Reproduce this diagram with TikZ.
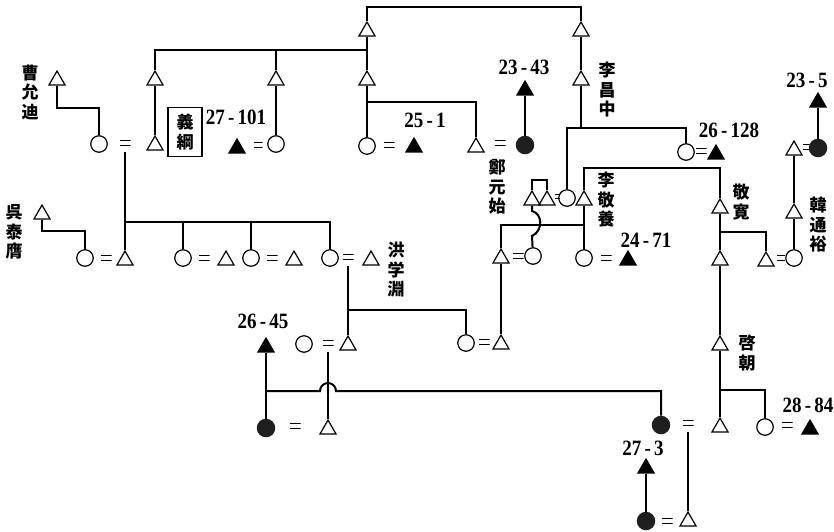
\documentclass[tikz,border=0pt]{standalone}
\usepackage{fontspec}
\newfontfamily\jp{Noto Sans CJK JP}
\newfontfamily\numfont{Liberation Serif}
\usetikzlibrary{shapes.geometric}
\begin{document}
\begin{tikzpicture}[x=1pt,y=-1pt,
 ln/.style={line width=2pt},
 tri/.style={regular polygon, regular polygon sides=3, minimum size=18.5pt, inner sep=0pt, draw, line width=1.2pt, yshift=-2.3pt},
 ftri/.style={tri, fill=black},
 circ/.style={circle, minimum size=16.5pt, inner sep=0pt, draw, line width=1.2pt},
 fcirc/.style={circle, minimum size=18.5pt, inner sep=0pt, fill=black!88},
 eqs/.style={rectangle, minimum width=11pt, minimum height=6pt, inner sep=0pt,
   path picture={\draw[line width=1pt]
     ([yshift=-0.5pt]path picture bounding box.north west) -- ([yshift=-0.5pt]path picture bounding box.north east)
     ([yshift=0.5pt]path picture bounding box.south west) -- ([yshift=0.5pt]path picture bounding box.south east);}},
 num/.style={font=\numfont\bfseries\fontsize{19}{19}\selectfont, inner sep=0pt},
 vt/.style={font=\jp\bfseries\fontsize{17}{19.5}\selectfont, align=center, inner sep=0pt},
 frombar/.style={ln, shorten <=6pt}
]
\useasboundingbox[fill=white] (0,0) rectangle (834,531);

% ---------- nodes ----------
\node[tri] (gA) at (367,29) {};
\node[tri] (gB) at (581,29) {};
\node[tri] (y1) at (57,78) {};
\node[tri] (y2) at (155,78) {};
\node[tri] (y3) at (276,78) {};
\node[tri] (y4) at (367,78) {};
\node[tri] (y5) at (581,78) {};

\node[circ] (c1) at (99,144) {};
\node[eqs] (e1) at (125,143) {};
\node[tri] (t1) at (155,143) {};
\node[draw, line width=1.8pt, minimum width=34pt, minimum height=49pt, inner sep=1pt, align=center,
      font=\jp\bfseries\fontsize{17}{20}\selectfont] (box) at (185,132) {義\\綱};
\node[ftri] (ft1) at (237,146) {};
\node[eqs, minimum width=9pt] (e2) at (258,145) {};
\node[circ] (c2) at (276,144) {};
\node[circ] (c3) at (367,146) {};
\node[eqs] (e3) at (389,145) {};
\node[ftri] (ft2) at (414,145) {};
\node[tri] (t2) at (476,145) {};
\node[eqs] (e4) at (500,143) {};
\node[fcirc] (fc1) at (525,145) {};
\node[ftri] (ft3) at (525,88) {};
\node[circ] (c4) at (686,152) {};
\node[eqs] (e5) at (701,151) {};
\node[ftri] (ft4) at (716,152) {};
\node[tri] (t3) at (794,148) {};
\node[eqs, minimum width=7pt] (e6) at (806,147) {};
\node[fcirc] (fc2) at (818,148) {};
\node[ftri] (ft5) at (818,100) {};

\node[tri] (tw1) at (532,198) {};
\node[tri] (tw2) at (547,198) {};
\node[eqs, minimum width=5pt, minimum height=5pt] (e7) at (557,196) {};
\node[circ] (c5) at (567,198) {};
\node[tri] (t4) at (584,198) {};
\node[tri] (t5) at (720,206) {};
\node[tri] (t6) at (794,211) {};

\node[tri] (y7) at (42,212) {};
\node[circ] (c6) at (85,258) {};
\node[eqs] (e8) at (106,258) {};
\node[tri] (t7) at (125,258) {};
\node[circ] (c7) at (183,258) {};
\node[eqs] (e9) at (204,258) {};
\node[tri] (t8) at (226,258) {};
\node[circ] (c8) at (251,258) {};
\node[eqs] (e10) at (272,258) {};
\node[tri] (t9) at (294,258) {};
\node[circ] (c9) at (330,258) {};
\node[eqs] (e11) at (348,257) {};
\node[tri] (t10) at (371,258) {};
\node[tri] (t11) at (501,256) {};
\node[eqs] (e12) at (518,256) {};
\node[circ] (c10) at (533,256) {};
\node[circ] (c11) at (584,258) {};
\node[eqs] (e13) at (606,258) {};
\node[ftri] (ft6) at (628,258) {};
\node[tri] (t12) at (720,258) {};
\node[tri] (t13) at (766,259) {};
\node[eqs, minimum width=8pt] (e14) at (781,258) {};
\node[circ] (c12) at (794,258) {};

\node[ftri] (ft7) at (266,345) {};
\node[circ] (c13) at (304,344) {};
\node[eqs] (e15) at (328,343) {};
\node[tri] (t14) at (348,343) {};
\node[circ] (c14) at (466,343) {};
\node[eqs] (e16) at (484,342) {};
\node[tri] (t15) at (501,342) {};
\node[tri] (t16) at (720,343) {};

\node[fcirc] (fc3) at (266,428) {};
\node[eqs] (e17) at (295,426) {};
\node[tri] (t17) at (328,427) {};
\node[fcirc] (fc4) at (661,425) {};
\node[eqs] (e18) at (688,423) {};
\node[tri] (t18) at (720,425) {};
\node[circ] (c15) at (765,427) {};
\node[eqs] (e19) at (787,425) {};
\node[ftri] (ft8) at (810,427) {};
\node[ftri] (ft9) at (646,466) {};
\node[fcirc] (fc5) at (646,521) {};
\node[eqs] (e20) at (667,521) {};
\node[tri] (t19) at (688,519) {};

% ---------- labels ----------
\node[num] (l1) at (236,117) {\scalebox{1}[1.15]{27\,-\,101}};
\node[num] (l2) at (425,120) {\scalebox{1}[1.15]{25\,-\,1}};
\node[num] (l3) at (524,67) {\scalebox{1}[1.15]{23\,-\,43}};
\node[num] (l4) at (729,130) {\scalebox{1}[1.15]{26\,-\,128}};
\node[num] (l5) at (807,80) {\scalebox{1}[1.15]{23\,-\,5}};
\node[num] (l6) at (646,240) {\scalebox{1}[1.15]{24\,-\,71}};
\node[num] (l7) at (263,321) {\scalebox{1}[1.15]{26\,-\,45}};
\node[num] (l8) at (808,405) {\scalebox{1}[1.15]{28\,-\,84}};
\node[num] (l9) at (643,448) {\scalebox{1}[1.15]{27\,-\,3}};

\node[vt] (n1) at (30,92) {曹\\允\\迪};
\node[vt] (n2) at (14,232) {呉\\泰\\膺};
\node[vt] (n3) at (396,270) {洪\\学\\淵};
\node[vt] (n4) at (497,187) {鄭\\元\\始};
\node[vt] (n5) at (607,90) {李\\昌\\中};
\node[vt] (n6) at (606,200) {李\\敬\\養};
\node[vt] (n7) at (741,202) {敬\\寛};
\node[vt] (n8) at (818,225) {韓\\通\\裕};
\node[vt] (n9) at (747,353) {啓\\朝};

% ---------- connectors ----------
\draw[ln] (gA) -- (gA |- 0,7) -| (gB);
\draw[ln] (gA) -- (y4);
\draw[ln] (y2) -- (y2 |- 0,50) -- (gA |- 0,50);
\draw[ln] (y3) -- (y3 |- 0,50);
\draw[ln] (gB) -- (y5);
\draw[ln] (y1) -- (y1 |- 0,108) -| (c1);
\draw[ln] (y2) -- (t1);
\draw[ln] (y3) -- (c2);
\draw[ln] (y4) -- (c3);
\draw[ln] (y4 |- 0,102) -| (t2);
\draw[ln] (ft3) -- (fc1);
\draw[ln] (y5) -- (y5 |- 0,128);
\draw[ln] (c5) -- (c5 |- 0,128) -| (c4);
\draw[ln] (ft5) -- (fc2);
\draw[ln] (t3) -- (t6);
\draw[ln] (t6) -- (c12);

\draw[frombar] (e1) -- (e1 |- 0,222) -| (c9);
\draw[ln] (e1 |- 0,222) -- (t7);
\draw[ln] (c7) -- (c7 |- 0,222);
\draw[ln] (c8) -- (c8 |- 0,222);
\draw[ln] (y7) -- (y7 |- 0,231) -| (c6);

\draw[frombar] (e11) -- (e11 |- 0,310) -| (c14);
\draw[ln] (e11 |- 0,310) -- (t14);
\draw[ln] (t11) -- (t15);

\draw[ln] (t4) -- (t4 |- 0,168) -| (t5);
\draw[ln] (t4) -- (c11);
\draw[ln] (t4 |- 0,225) -| (t11);
\draw[line width=1.6pt] (tw1) -- (tw1 |- 0,180) -| (tw2);
\draw[ln] (tw1) -- (532,211) .. controls (543,214) and (543,231) .. (532,236) -- (c10);

\draw[ln] (t5) -- (t12);
\draw[ln] (t5 |- 0,232) -| (t13);
\draw[ln] (t12) -- (t16);
\draw[ln] (t16) -- (t18);
\draw[ln] (t16 |- 0,390) -| (c15);

\draw[ln] (ft7) -- (fc3);
\coordinate (hop) at (e15 |- 0,391);
\draw[ln] (ft7 |- hop) -- ([xshift=-8pt]hop) arc[start angle=180, end angle=360, radius=8] -- (fc4 |- hop) -- (fc4);
\draw[frombar] (e15) -- (t17);
\draw[frombar] (e18) -- (t19);
\draw[ln] (ft9) -- (fc5);
\end{tikzpicture}
\end{document}
